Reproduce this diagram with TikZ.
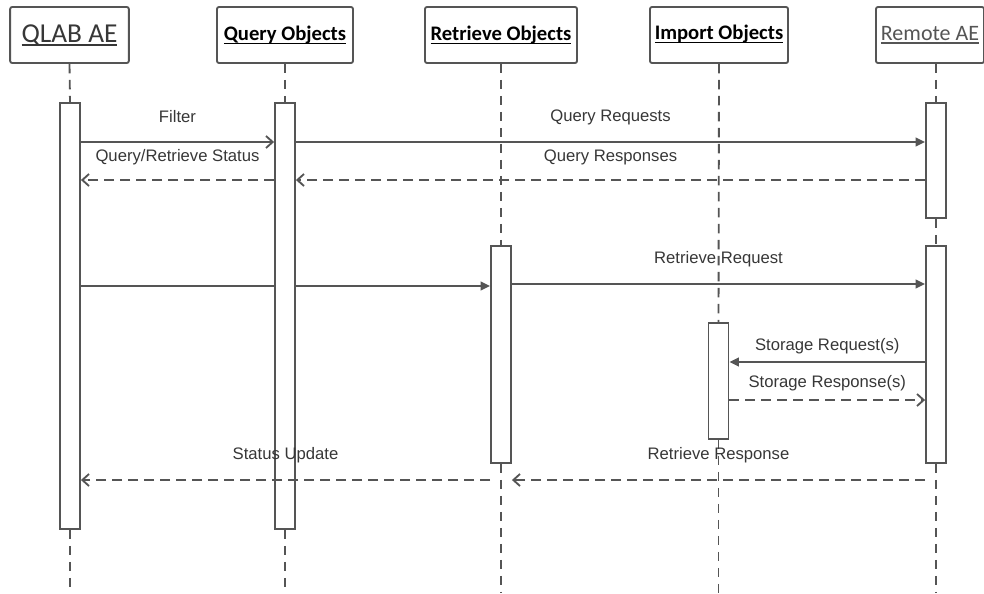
\documentclass[tikz,border=0pt]{standalone}
\usepackage{fontspec}
\setmainfont{Liberation Sans}
\newfontfamily\hdrfont{Carlito}
\usetikzlibrary{arrows.meta}
\definecolor{ln}{RGB}{85,85,85}
\definecolor{tx}{RGB}{55,55,55}
\newcommand\myul[1]{\setbox0\hbox{#1}\rlap{\rule[-2.6pt]{\wd0}{1.1pt}}\box0}
\pgfdeclarelayer{bg}
\pgfsetlayers{bg,main}
\begin{document}
\begin{tikzpicture}[x=0.75pt,y=-0.75pt,
  hdr/.style={draw=ln, line width=1.4pt, rounded corners=1.5pt, minimum height=42pt, inner sep=0pt, fill=white, font=\hdrfont\bfseries\fontsize{15.5}{18}\selectfont, text=black},
  act/.style={draw=ln, line width=1.4pt, fill=white, anchor=north, minimum width=15pt, inner sep=0pt},
  life/.style={draw=ln, line width=1.4pt, dash pattern=on 7pt off 5pt},
  sync/.style={draw=ln, line width=1.4pt, -{Triangle[length=7pt,width=6.5pt]}},
  call/.style={draw=ln, line width=1.4pt, -{Straight Barb[length=5pt,width=9pt]}},
  reply/.style={call, dash pattern=on 7.5pt off 4.5pt},
  lbl/.style={font=\fontsize{12.5}{14}\selectfont, text=tx, inner sep=0pt},
]
\useasboundingbox (0,0) rectangle (984,593);
\clip (0,0) rectangle (984,593);

% headers
\node[hdr, minimum width=89pt, font=\hdrfont\fontsize{20.5}{24}\selectfont, text=tx] (qlab) at (69.5,35) {\myul{QLAB AE}};
\node[hdr, minimum width=102pt] (qobj) at (285,35) {\raisebox{2pt}{\myul{Query Objects}}};
\node[hdr, minimum width=114pt] (robj) at (501,35) {\myul{Retrieve Objects}};
\node[hdr, minimum width=103.5pt] (iobj) at (719,35) {\raisebox{4pt}{\myul{Import Objects}}};
\node[hdr, minimum width=81pt, font=\hdrfont\fontsize{16.5}{20}\selectfont, text=ln] (remote) at (930,35) {\myul{Remote AE}};

% activations
\node[act, minimum height=319.5pt] (qa) at (70,102) {};
\node[act, minimum height=319.5pt] (qoa) at (285,102) {};
\node[act, minimum height=162.75pt] (ra) at (501,245) {};
\node[act, minimum height=87pt] (ia) at (718.5,322) {};
\node[act, minimum height=86.25pt] (rma1) at (936,102) {};
\node[act, minimum height=162.75pt] (rma2) at (936,245) {};

% lifeline ends
\coordinate (qlabend) at (70,593);
\coordinate (qobjend) at (285,593);
\coordinate (robjend) at (501,593);
\coordinate (iobjend) at (718.5,593);
\coordinate (remend) at (936,593);

\begin{pgfonlayer}{bg}
\draw[life] (qlab.south) -- (qa.north);
\draw[life] (qa.south) -- (qlabend);
\draw[life] (qobj.south) -- (qoa.north);
\draw[life] (qoa.south) -- (qobjend);
\draw[life] (robj.south) -- (ra.north);
\draw[life] (ra.south) -- (robjend);
\draw[life] (iobj.south) -- (ia.north);
\draw[life] (ia.south) -- (iobjend);
\draw[life] (rma1.north |- remote.south) -- (rma1.north);
\draw[life] (rma1.south) -- (rma2.north);
\draw[life] (rma2.south) -- (remend);
\draw[sync] (qa.east |- 0,286) -- (ra.west |- 0,286);
\end{pgfonlayer}

% messages
\draw[call] (qa.east |- 0,142) -- node[lbl, yshift=18.75pt] (lfilter) {Filter} (qoa.west |- 0,142);
\draw[sync] (qoa.east |- 0,142) -- node[lbl, yshift=18.75pt] (lqreq) {Query Requests} (rma1.west |- 0,142);
\draw[reply] (qoa.west |- 0,180) -- node[lbl, yshift=17.25pt] (lqrs) {Query/Retrieve Status} (qa.east |- 0,180);
\draw[reply] (rma1.west |- 0,180) -- node[lbl, yshift=17.25pt] (lqresp) {Query Responses} (qoa.east |- 0,180);
\draw[sync] (ra.east |- 0,284) -- node[lbl, yshift=18.75pt] (lrreq) {Retrieve Request} (rma2.west |- 0,284);
\draw[sync] (rma2.west |- 0,362) -- node[lbl, yshift=12pt] (lsreq) {Storage Request(s)} (ia.east |- 0,362);
\draw[reply] (ia.east |- 0,400) -- node[lbl, yshift=12.75pt] (lsresp) {Storage Response(s)} (rma2.west |- 0,400);
\draw[reply] (rma2.west |- 0,480) -- node[lbl, yshift=18.75pt] (lrresp) {Retrieve Response} (ra.east |- 0,480);
\draw[reply] (ra.west |- 0,480) -- node[lbl, yshift=18.75pt] (lsupd) {Status Update} (qa.east |- 0,480);
\end{tikzpicture}
\end{document}
